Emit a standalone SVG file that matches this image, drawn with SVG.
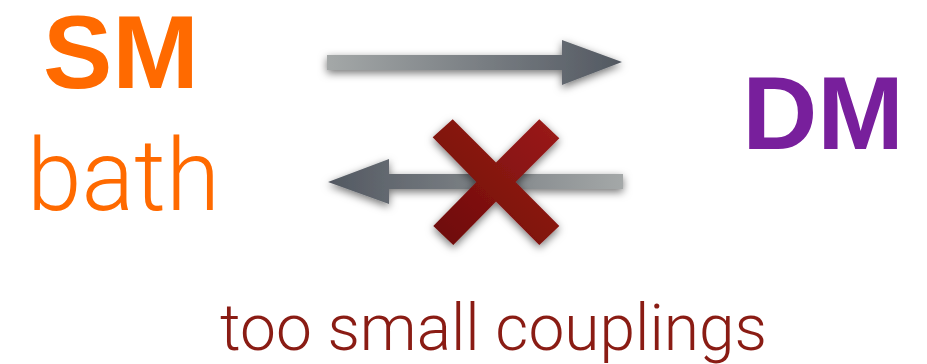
<svg xmlns="http://www.w3.org/2000/svg" width="927" height="364" viewBox="0 0 927 364">
<defs>
<style>
.big{font-family:"Liberation Sans",Arial,sans-serif;font-weight:bold;font-size:104px;text-anchor:middle}
.light{font-family:Roboto,"Liberation Sans",sans-serif;font-weight:300}
.sm{fill:#ff6a00}
.dm{fill:#781f9c}
.note{fill:#8a1c14}
</style>
<linearGradient id="gr" x1="0" y1="0" x2="1" y2="0">
<stop offset="0" stop-color="#a4a8a8"/>
<stop offset="1" stop-color="#525861"/>
</linearGradient>
<linearGradient id="gl" x1="1" y1="0" x2="0" y2="0">
<stop offset="0" stop-color="#a4a8a8"/>
<stop offset="1" stop-color="#525861"/>
</linearGradient>
<linearGradient id="gx" x1="1" y1="0" x2="0" y2="1">
<stop offset="0" stop-color="#9c1b19"/>
<stop offset="1" stop-color="#6c0b07"/>
</linearGradient>
<filter id="sh" x="-20%" y="-30%" width="140%" height="160%">
<feDropShadow dx="0" dy="3" stdDeviation="4" flood-color="#000" flood-opacity="0.55"/>
</filter>
</defs>
<g id="sm-bath">
<text class="big sm" x="121" y="88">SM</text>
<text class="light sm" x="27" y="210" font-size="100" textLength="193" lengthAdjust="spacingAndGlyphs">bath</text>
</g>
<g id="dm">
<text class="big dm" x="823" y="149">DM</text>
</g>
<g id="connectors">
<path d="M327 55 H562 V40 L622 62 L562 85 V70 H327 Z" fill="url(#gr)" filter="url(#sh)"/>
<path d="M623 174 H389 V159 L328 182 L389 204 V189 H623 Z" fill="url(#gl)" filter="url(#sh)"/>
</g>
<g id="cross" filter="url(#sh)" fill="url(#gx)">
<path d="M432.7 137.3 L452.7 119.3 L496 162.6 L539.3 119.3 L559.3 138.3 L515.5 182 L559.3 226 L539.3 245 L496 201.5 L453.3 245 L433.3 226 L476.5 182 Z"/>
</g>
<g id="note">
<text class="light note" x="220" y="350" font-size="64" textLength="547" lengthAdjust="spacingAndGlyphs">too small couplings</text>
</g>
</svg>
